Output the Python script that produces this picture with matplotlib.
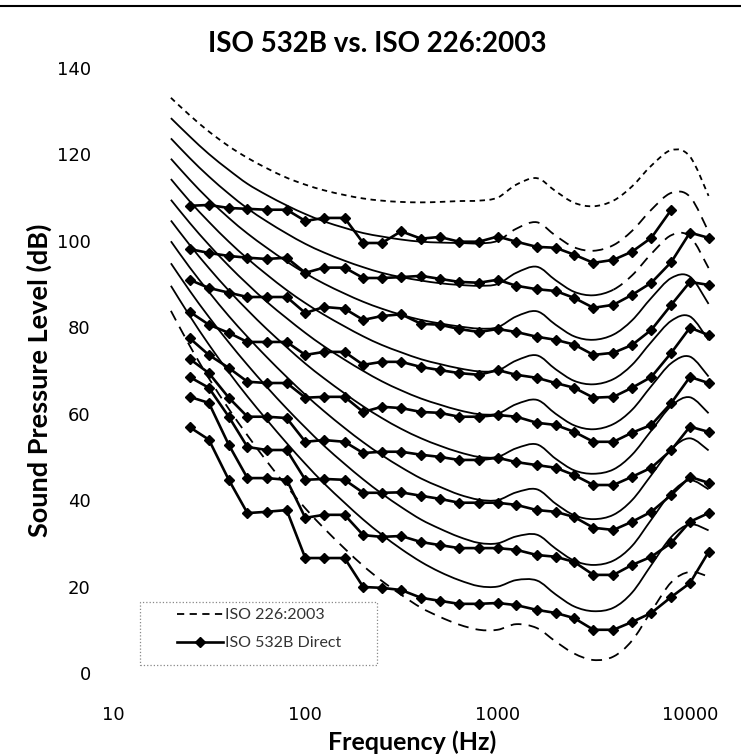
import numpy as np
import matplotlib
matplotlib.use("Agg")
import matplotlib.pyplot as plt
from matplotlib.lines import Line2D
from matplotlib.path import Path
from matplotlib.patches import PathPatch, Rectangle

# ISO 226:2003 contours, 1/3 octave frequencies
iso_f = [20, 25, 31.5, 40, 50, 63, 80, 100, 125, 160, 200, 250, 315, 400, 500, 630, 800,
         1000, 1250, 1600, 2000, 2500, 3150, 4000, 5000, 6300, 8000, 10000, 12500]
iso_10 = [83.8, 75.8, 68.2, 61.1, 55.0, 49.0, 43.2, 38.1, 33.5, 28.8, 24.8, 21.3, 18.1, 15.1, 13.0,
          11.2, 10.0, 10.0, 11.3, 10.4, 7.3, 4.5, 3.0, 3.8, 7.5, 14.3, 21.0, 23.4, 22.3]
iso_20 = [89.6, 82.7, 76.0, 69.6, 64.0, 58.6, 53.2, 48.4, 43.9, 39.4, 35.5, 32.0, 28.7, 25.7, 23.4,
          21.5, 20.1, 20.0, 21.5, 21.4, 18.2, 15.4, 14.3, 15.1, 18.6, 25.0, 31.5, 34.4, 33.0]
iso_30 = [94.8, 88.5, 82.4, 76.5, 71.3, 66.2, 61.2, 56.8, 52.6, 48.4, 44.8, 41.5, 38.4, 35.5, 33.4,
          31.5, 30.1, 30.0, 31.6, 32.0, 28.8, 26.0, 25.0, 26.0, 29.4, 35.5, 41.7, 44.6, 42.5]
iso_40 = [99.9, 93.9, 88.2, 82.6, 77.8, 73.1, 68.5, 64.4, 60.6, 56.7, 53.4, 50.4, 47.6, 45.0, 43.1,
          41.3, 40.1, 40.0, 41.8, 42.5, 39.2, 36.5, 35.6, 36.6, 40.0, 45.8, 51.8, 54.3, 51.5]
iso_50 = [104.7, 99.1, 93.7, 88.5, 84.0, 79.6, 75.4, 71.6, 68.2, 64.7, 61.7, 59.0, 56.5, 54.3, 52.6,
          51.1, 50.0, 50.0, 52.0, 52.9, 49.6, 46.9, 46.1, 47.1, 50.5, 56.1, 61.8, 63.8, 60.1]
iso_60 = [109.5, 104.2, 99.1, 94.2, 90.0, 85.9, 82.1, 78.7, 75.6, 72.5, 69.9, 67.5, 65.4, 63.5, 62.1,
          60.8, 59.9, 60.0, 62.2, 63.2, 60.0, 57.3, 56.4, 57.6, 60.9, 66.4, 71.7, 73.2, 68.6]
iso_70 = [114.3, 109.2, 104.4, 99.8, 95.9, 92.2, 88.6, 85.6, 82.9, 80.2, 77.9, 75.9, 74.2, 72.6, 71.5,
          70.5, 69.8, 70.0, 72.3, 73.5, 70.3, 67.6, 66.8, 68.0, 71.3, 76.6, 81.5, 82.5, 77.0]
iso_80 = [119.0, 114.2, 109.6, 105.3, 101.7, 98.4, 95.2, 92.5, 90.1, 87.8, 85.9, 84.3, 82.9, 81.7, 80.9,
          80.2, 79.7, 80.0, 82.5, 83.7, 80.6, 77.9, 77.1, 78.3, 81.6, 86.8, 91.4, 91.7, 85.4]
iso_90 = [123.7, 119.2, 114.9, 110.9, 107.5, 104.5, 101.7, 99.3, 97.3, 95.4, 93.9, 92.6, 91.6, 90.8, 90.2,
          89.8, 89.6, 90.0, 92.6, 94.0, 90.9, 88.2, 87.4, 88.7, 92.0, 97.0, 101.3, 101.0, 93.7]
iso_100 = [128.4, 124.2, 120.1, 116.4, 113.2, 110.6, 108.2, 106.2, 104.5, 103.0, 101.8, 101.0, 100.3, 99.8,
           99.6, 99.5, 99.4, 100.0, 102.8, 104.3, 101.2, 98.5, 97.7, 99.0, 102.3, 107.2, 111.1, 110.2, 102.1]
iso_110 = [133.1, 129.1, 125.3, 121.9, 119.2, 116.8, 114.6, 113.0, 111.7, 110.6, 109.8, 109.3, 109.0, 108.9,
           109.0, 109.2, 109.3, 110.0, 113.0, 114.5, 111.5, 108.8, 108.0, 109.3, 112.6, 117.4, 121.0, 119.5, 110.4]

# ISO 532B direct, marker series
b_f = [25, 31.5, 40, 50, 63, 80, 100, 125, 160, 200, 250, 315, 400, 500, 630, 800,
       1000, 1250, 1600, 2000, 2500, 3150, 4000, 5000, 6300, 8000, 10000, 12500]
b_100 = [108.1, 108.3, 107.6, 107.4, 107.2, 107.2, 104.6, 105.3, 105.3, 99.5, 99.5, 102.2, 100.5, 100.9,
         99.8, 99.8, 101.0, 99.8, 98.6, 98.4, 96.8, 94.9, 95.6, 97.5, 100.7, 107.2]
b_90 = [98.1, 97.2, 96.5, 96.1, 95.8, 96.1, 92.6, 93.8, 93.8, 91.4, 91.4, 91.6, 91.9, 91.2, 90.5, 90.3,
        91.0, 89.6, 88.8, 88.4, 86.8, 84.5, 85.2, 87.5, 90.3, 95.1, 101.9, 100.7]
b_80 = [91.0, 89.1, 88.0, 87.0, 87.0, 87.0, 83.3, 84.7, 84.3, 81.7, 82.6, 83.0, 80.8, 80.6, 79.6, 78.9,
        79.6, 78.9, 77.8, 77.1, 76.0, 73.6, 74.1, 75.9, 79.4, 85.2, 90.5, 89.8]
b_70 = [83.6, 80.6, 78.7, 76.6, 76.6, 76.6, 73.6, 74.3, 74.3, 71.3, 72.0, 72.0, 70.8, 70.1, 69.4, 69.0,
        70.1, 69.0, 68.3, 67.1, 66.0, 63.7, 63.9, 66.0, 68.5, 74.1, 79.9, 78.2]
b_60 = [77.5, 73.6, 70.6, 67.4, 67.1, 67.1, 63.7, 63.9, 63.9, 60.4, 61.6, 61.3, 60.4, 60.2, 59.3, 59.3,
        59.7, 59.3, 57.9, 57.4, 55.8, 53.5, 53.5, 55.6, 57.4, 62.5, 68.5, 67.1]
b_50 = [72.7, 69.4, 63.7, 59.3, 59.3, 59.0, 53.5, 53.9, 53.5, 50.9, 51.2, 51.2, 50.5, 50.0, 49.3, 49.3,
        49.8, 48.8, 48.1, 47.5, 45.8, 43.5, 43.5, 45.4, 47.5, 51.6, 57.0, 55.8]
b_40 = [68.5, 66.0, 59.3, 52.3, 51.6, 51.6, 44.7, 44.9, 44.7, 41.7, 41.7, 41.8, 41.0, 40.3, 39.4, 39.4,
        39.4, 38.9, 37.7, 37.3, 36.1, 33.6, 33.1, 35.0, 37.3, 41.2, 45.4, 44.0]
b_30 = [63.9, 62.5, 52.8, 45.1, 45.1, 44.7, 35.9, 36.6, 36.6, 31.9, 31.5, 31.7, 30.3, 29.6, 28.9, 28.9,
        28.9, 28.5, 27.3, 26.9, 25.7, 22.7, 22.7, 25.0, 26.9, 30.1, 35.0, 37.0]
b_20 = [56.9, 54.0, 44.7, 37.0, 37.3, 37.7, 26.6, 26.6, 26.6, 19.9, 19.7, 19.2, 17.4, 16.7, 16.0, 16.0,
        16.2, 15.7, 14.6, 13.9, 12.7, 10.0, 10.0, 11.8, 13.9, 17.6, 20.8, 28.0]

x_ticks = [10, 100, 1000, 10000]
y_ticks = [0, 20, 40, 60, 80, 100, 120, 140]


def smooth_path(xs, ys, i0=0, i1=None):
    # Excel style smoothed line: bezier through the points, built in log10(f) space
    u = np.log10(xs)
    y = np.asarray(ys, dtype=float)
    n = len(u)
    if i1 is None:
        i1 = n - 1
    verts = [(xs[i0], y[i0])]
    codes = [Path.MOVETO]
    for i in range(i0, i1):
        a = max(i - 1, 0)
        b = min(i + 2, n - 1)
        c1 = (10 ** (u[i] + (u[i + 1] - u[a]) / 6), y[i] + (y[i + 1] - y[a]) / 6)
        c2 = (10 ** (u[i + 1] - (u[b] - u[i]) / 6), y[i + 1] - (y[b] - y[i]) / 6)
        verts += [c1, c2, (xs[i + 1], y[i + 1])]
        codes += [Path.CURVE4] * 3
    return Path(verts, codes)


def iso_curve(ax, ys, i0=0, i1=None, dashes=None):
    ls = '-' if dashes is None else (0, dashes)
    ax.add_patch(PathPatch(smooth_path(iso_f, ys, i0, i1), fill=False, edgecolor='black',
                           lw=1.3, linestyle=ls, capstyle='butt'))


plt.rcParams['font.family'] = ['Lato', 'DejaVu Sans']

fig = plt.figure(figsize=(7.41, 7.56), dpi=100)
ax = fig.add_axes([0.1525, 0.1098, 0.8243, 0.8003])

for c in [iso_20, iso_30, iso_40, iso_50, iso_60, iso_70, iso_80]:
    iso_curve(ax, c)
# 90 and 100 phon: solid at low frequencies, dashed at high
iso_curve(ax, iso_90, 0, 23)
iso_curve(ax, iso_90, 23, None, (6, 4))
iso_curve(ax, iso_100, 0, 17)
iso_curve(ax, iso_100, 17, None, (6, 4))
iso_curve(ax, iso_10, dashes=(6, 4))
iso_curve(ax, iso_110, dashes=(3, 2.5))

for s in [b_100, b_90, b_80, b_70, b_60, b_50, b_40, b_30, b_20]:
    ax.plot(b_f[:len(s)], s, color='black', lw=1.9, marker='D', markersize=4.8)

ax.set_xscale('log')
ax.set_xlim(10, 15000)
ax.set_ylim(0, 140)
ax.set_xticks(x_ticks)
ax.set_xticklabels([str(v) for v in x_ticks])
ax.set_yticks(y_ticks)
ax.minorticks_off()
ax.tick_params(length=0, labelsize=13, pad=16)
ax.tick_params(axis='x', pad=24)
for lab in ax.get_xticklabels() + ax.get_yticklabels():
    lab.set_family(['DejaVu Sans'])
for sp in ax.spines.values():
    sp.set_visible(False)

fig.text(0.509, 0.942, "ISO 532B vs. ISO 226:2003", ha='center', va='center',
         fontsize=20, weight='bold')
fig.text(0.556, 0.018, "Frequency (Hz)", ha='center', va='center', fontsize=18, weight='bold')
fig.text(0.053, 0.497, "Sound Pressure Level (dB)", ha='center', va='center',
         fontsize=19.5, weight='bold', rotation=90)

# rule along the top of the page
fig.add_artist(Line2D([0, 1], [1 - 6 / 756, 1 - 6 / 756], color='black', lw=1.5))

# legend: dotted box plus entries
ax.add_patch(Rectangle((0.0442, 0.0132), 0.388, 0.1042, transform=ax.transAxes, fill=False,
                       edgecolor='#888888', lw=0.9, linestyle=':'))
handles = [Line2D([], [], color='black', lw=1.3, dashes=(4, 3)),
           Line2D([], [], color='black', lw=1.9, marker='D', markersize=4.8)]
leg = ax.legend(handles, ['ISO 226:2003', 'ISO 532B Direct'], loc='upper left',
                bbox_to_anchor=(0.104, 0.107), frameon=False, borderpad=0, borderaxespad=0,
                fontsize=11.5, handlelength=2.9, handletextpad=0.15, labelspacing=0.85)
for t in leg.get_texts():
    t.set_color('#333333')

plt.savefig('out.png', dpi=100)
